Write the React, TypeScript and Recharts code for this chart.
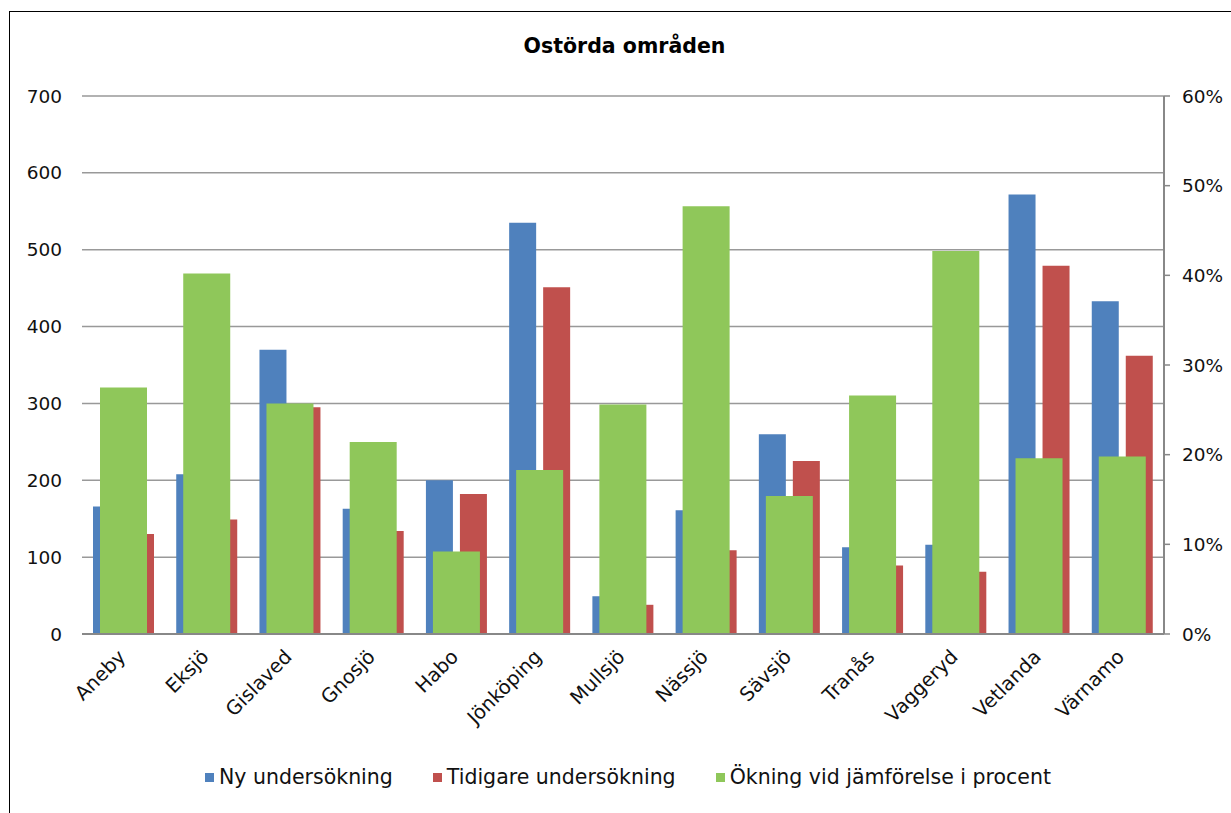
import React from 'react';
import { BarChart, Bar, XAxis, YAxis, CartesianGrid } from 'recharts';

// areas in the survey
const areas = [
  'Aneby', 'Eksjö', 'Gislaved', 'Gnosjö', 'Habo', 'Jönköping', 'Mullsjö',
  'Nässjö', 'Sävsjö', 'Tranås', 'Vaggeryd', 'Vetlanda', 'Värnamo',
];
const nyUndersokning = [166, 208, 370, 163, 200, 535, 49, 161, 260, 113, 116, 572, 433];
const tidigareUndersokning = [130, 149, 295, 134, 182, 451, 38, 109, 225, 89, 81, 479, 362];
const okningProcent = [27.5, 40.2, 25.7, 21.4, 9.2, 18.3, 25.6, 47.7, 15.4, 26.6, 42.7, 19.6, 19.8];

const leftTicks = [0, 100, 200, 300, 400, 500, 600, 700];
const rightTicks = [0, 10, 20, 30, 40, 50, 60];

const FONT = '"DejaVu Sans", sans-serif';
const BLUE = '#4F81BD';
const RED = '#C0504D';
const GREEN = '#8FC75A';

const data = areas.map((name, i) => ({
  name,
  ny: nyUndersokning[i],
  tidigare: tidigareUndersokning[i],
  okning: okningProcent[i],
}));

const legendItems = [
  { label: 'Ny undersökning', color: BLUE },
  { label: 'Tidigare undersökning', color: RED },
  { label: 'Ökning vid jämförelse i procent', color: GREEN },
];

const AreaTick = (props: any) => {
  const { x, y, payload } = props;
  return (
    <g transform={`translate(${x + 3},${y + 24}) rotate(-45)`}>
      <text x={0} y={0} textAnchor="end" fontSize={19.5} fontFamily={FONT} fill="#111">
        {payload.value}
      </text>
    </g>
  );
};

export default function App() {
  return (
    <div
      style={{
        position: 'fixed',
        left: 0,
        top: 0,
        width: 1231,
        height: 813,
        overflow: 'hidden',
        background: '#fff',
      }}
    >
      <div
        style={{
          position: 'absolute',
          left: 9,
          top: 11,
          width: 1240,
          height: 820,
          border: '1px solid #000',
        }}
      />
      <div
        style={{
          position: 'absolute',
          left: 0,
          top: 34,
          width: 1249,
          textAlign: 'center',
          fontFamily: FONT,
          fontWeight: 'bold',
          fontSize: 20.5,
          color: '#000',
        }}
      >
        Ostörda områden
      </div>
      <div style={{ position: 'absolute', left: 0, top: 0 }}>
        <BarChart
          width={1231}
          height={813}
          data={data}
          barGap={7}
          margin={{ top: 96, right: 7, bottom: 79, left: 22 }}
        >
          <CartesianGrid
            xAxisId="main"
            yAxisId="left"
            vertical={false}
            stroke="#999"
            strokeWidth={1.5}
          />
          <XAxis
            xAxisId="main"
            dataKey="name"
            height={100}
            interval={0}
            tickLine={false}
            tickSize={0}
            tickMargin={0}
            axisLine={{ stroke: '#888', strokeWidth: 2 }}
            tick={<AreaTick />}
          />
          <XAxis xAxisId="pct" dataKey="name" hide />
          <YAxis
            yAxisId="left"
            width={60}
            domain={[0, 700]}
            ticks={leftTicks}
            axisLine={false}
            tickLine={false}
            tickMargin={14}
            tick={{ fontSize: 18.5, fontFamily: FONT, fill: '#111' }}
          />
          <YAxis
            yAxisId="right"
            orientation="right"
            width={60}
            domain={[0, 60]}
            ticks={rightTicks}
            tickFormatter={(v: number) => `${v}%`}
            axisLine={{ stroke: '#888', strokeWidth: 2 }}
            tickLine={{ stroke: '#888', strokeWidth: 1.5 }}
            tickSize={6}
            tickMargin={12}
            tick={{ fontSize: 18.5, fontFamily: FONT, fill: '#111' }}
          />
          <Bar
            xAxisId="main"
            yAxisId="left"
            dataKey="ny"
            name="Ny undersökning"
            fill={BLUE}
            barSize={27}
            isAnimationActive={false}
          />
          <Bar
            xAxisId="main"
            yAxisId="left"
            dataKey="tidigare"
            name="Tidigare undersökning"
            fill={RED}
            barSize={27}
            isAnimationActive={false}
          />
          <Bar
            xAxisId="pct"
            yAxisId="right"
            dataKey="okning"
            name="Ökning vid jämförelse i procent"
            fill={GREEN}
            barSize={47}
            isAnimationActive={false}
          />
        </BarChart>
      </div>
      <div
        style={{
          position: 'absolute',
          left: 0,
          top: 765,
          width: 1256,
          display: 'flex',
          justifyContent: 'center',
          gap: 40,
          fontFamily: FONT,
          fontSize: 20.5,
          color: '#111',
        }}
      >
        {legendItems.map((item) => (
          <div key={item.label} style={{ display: 'flex', alignItems: 'center' }}>
            <span
              style={{
                display: 'inline-block',
                width: 9,
                height: 9,
                background: item.color,
                marginRight: 5,
              }}
            />
            <span>{item.label}</span>
          </div>
        ))}
      </div>
    </div>
  );
}
